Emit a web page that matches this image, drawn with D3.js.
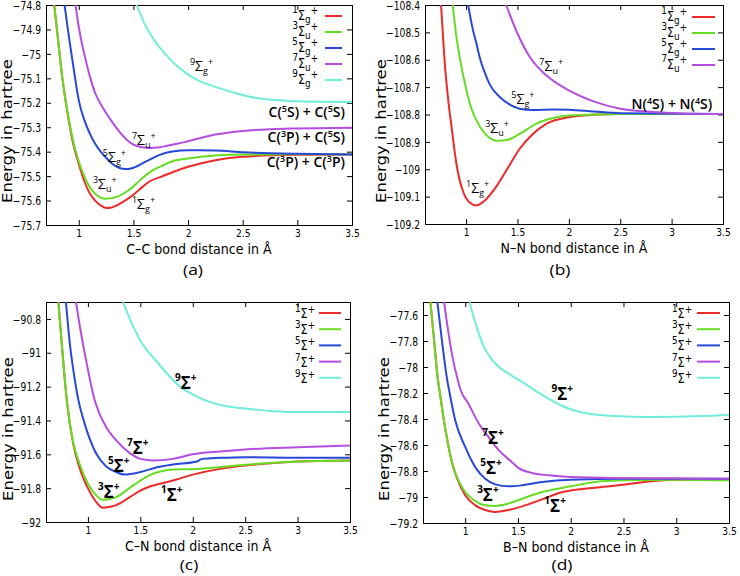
<!DOCTYPE html>
<html><head><meta charset="utf-8">
<script src="https://cdn.jsdelivr.net/npm/d3@7"></script>
<style>body{margin:0;background:#fff} svg{display:block}</style>
</head><body><svg id="chart" width="740" height="576"></svg>
<script>
// ---------------- data ----------------
const xTicks = [1, 1.5, 2, 2.5, 3, 3.5];
const yTicksCC = [-74.8, -74.9, -75, -75.1, -75.2, -75.3, -75.4, -75.5, -75.6, -75.7];
const yTicksNN = [-108.4, -108.5, -108.6, -108.7, -108.8, -108.9, -109, -109.1, -109.2];
const yTicksCN = [-90.8, -91, -91.2, -91.4, -91.6, -91.8, -92];
const yTicksBN = [-77.6, -77.8, -78, -78.2, -78.4, -78.6, -78.8, -79, -79.2];

const ccTerms = [["1","g"],["3","u"],["5","g"],["7","u"],["9","g"]];
const nnTerms = [["1","g"],["3","u"],["5","g"],["7","u"]];
const cnTerms = [["1",""],["3",""],["5",""],["7",""],["9",""]];
const bnTerms = [["1",""],["3",""],["5",""],["7",""],["9",""]];

// C2 (a)
const cc1 = [[0.775,-74.8],[0.8,-74.9],[0.85,-75.1],[0.9,-75.25],[0.95,-75.37],[1.0,-75.45],[1.05,-75.52],[1.1,-75.57],[1.15,-75.6],[1.2,-75.62],[1.25,-75.63],[1.3,-75.628],[1.36,-75.617],[1.43,-75.598],[1.5,-75.576],[1.58,-75.545],[1.65,-75.521],[1.75,-75.503],[1.87,-75.482],[2.0,-75.462],[2.25,-75.435],[2.5,-75.421],[3.0,-75.413],[3.5,-75.412]];
const cc3 = [[0.775,-74.8],[0.8,-74.9],[0.85,-75.1],[0.9,-75.245],[0.95,-75.36],[1.0,-75.44],[1.05,-75.5],[1.1,-75.545],[1.15,-75.572],[1.2,-75.588],[1.24,-75.593],[1.3,-75.59],[1.36,-75.583],[1.45,-75.56],[1.5,-75.542],[1.56,-75.517],[1.62,-75.494],[1.7,-75.47],[1.75,-75.46],[1.86,-75.439],[2.0,-75.428],[2.25,-75.416],[2.5,-75.412],[3.0,-75.411],[3.5,-75.411]];
const cc5 = [[0.87,-74.8],[0.9,-74.9],[0.95,-75.05],[1.0,-75.19],[1.05,-75.27],[1.1,-75.325],[1.15,-75.368],[1.2,-75.4],[1.25,-75.425],[1.3,-75.447],[1.35,-75.462],[1.4,-75.47],[1.45,-75.471],[1.5,-75.466],[1.62,-75.439],[1.745,-75.412],[1.87,-75.398],[2.0,-75.394],[2.25,-75.395],[2.5,-75.402],[3.0,-75.409],[3.5,-75.412]];
const cc7 = [[0.97,-74.8],[1.0,-74.89],[1.05,-75.0],[1.1,-75.09],[1.15,-75.16],[1.2,-75.205],[1.255,-75.245],[1.3,-75.275],[1.38,-75.323],[1.45,-75.355],[1.5,-75.371],[1.58,-75.382],[1.65,-75.385],[1.72,-75.383],[1.8,-75.377],[1.9,-75.368],[2.0,-75.357],[2.25,-75.33],[2.5,-75.315],[2.75,-75.308],[3.0,-75.305],[3.5,-75.302]];
const cc9 = [[1.53,-74.8],[1.6,-74.875],[1.7,-74.95],[1.8,-75.005],[1.9,-75.05],[2.0,-75.085],[2.1,-75.11],[2.25,-75.135],[2.48,-75.166],[2.6,-75.178],[2.79,-75.189],[3.0,-75.194],[3.25,-75.196],[3.5,-75.197]];

// N2 (b)
const nn1 = [[0.756,-108.4],[0.79,-108.6],[0.83,-108.76],[0.86,-108.85],[0.91,-108.99],[0.974,-109.085],[1.04,-109.123],[1.1,-109.132],[1.18,-109.115],[1.3,-109.06],[1.41,-108.993],[1.52,-108.926],[1.65,-108.871],[1.78,-108.834],[2.0,-108.81],[2.24,-108.801],[2.5,-108.798],[3.5,-108.798]];
const nn3 = [[0.87,-108.4],[0.9,-108.5],[0.94,-108.596],[1.0,-108.706],[1.04,-108.765],[1.136,-108.846],[1.22,-108.883],[1.3,-108.896],[1.4,-108.893],[1.52,-108.871],[1.68,-108.834],[1.85,-108.813],[2.0,-108.804],[2.5,-108.798],[3.5,-108.798]];
const nn5 = [[1.02,-108.4],[1.06,-108.48],[1.1,-108.54],[1.136,-108.596],[1.18,-108.645],[1.23,-108.69],[1.33,-108.737],[1.43,-108.765],[1.52,-108.779],[1.65,-108.784],[1.85,-108.782],[2.0,-108.783],[2.24,-108.789],[2.5,-108.795],[3.5,-108.798]];
const nn7 = [[1.39,-108.4],[1.5,-108.504],[1.62,-108.59],[1.78,-108.657],[2.0,-108.712],[2.24,-108.752],[2.5,-108.779],[2.82,-108.791],[3.1,-108.796],[3.5,-108.798]];

// CN (c)
const cn1 = [[0.718,-90.7],[0.76,-91.02],[0.8,-91.29],[0.86,-91.54],[0.92,-91.68],[1.0,-91.8],[1.08,-91.883],[1.143,-91.916],[1.2,-91.912],[1.27,-91.9],[1.4,-91.853],[1.5,-91.814],[1.59,-91.79],[1.7,-91.772],[1.81,-91.755],[2.0,-91.72],[2.26,-91.686],[2.5,-91.666],[2.77,-91.652],[3.0,-91.642],[3.5,-91.636]];
const cn3 = [[0.718,-90.7],[0.76,-91.02],[0.8,-91.29],[0.86,-91.53],[0.92,-91.656],[1.0,-91.774],[1.08,-91.843],[1.143,-91.869],[1.2,-91.866],[1.27,-91.853],[1.4,-91.798],[1.5,-91.755],[1.6,-91.72],[1.7,-91.7],[1.82,-91.69],[2.0,-91.688],[2.25,-91.676],[2.5,-91.662],[3.0,-91.642],[3.5,-91.636]];
const cn5 = [[0.79,-90.7],[0.83,-90.96],[0.87,-91.14],[0.909,-91.28],[0.95,-91.38],[1.0,-91.479],[1.08,-91.597],[1.175,-91.672],[1.27,-91.705],[1.35,-91.72],[1.5,-91.705],[1.66,-91.676],[1.81,-91.66],[2.04,-91.642],[2.09,-91.627],[2.26,-91.621],[2.5,-91.617],[3.0,-91.62],[3.5,-91.62]];
const cn7 = [[0.886,-90.7],[0.93,-90.87],[0.975,-91.02],[1.02,-91.16],[1.06,-91.27],[1.11,-91.36],[1.175,-91.44],[1.27,-91.518],[1.4,-91.593],[1.5,-91.627],[1.62,-91.636],[1.81,-91.627],[2.0,-91.6],[2.26,-91.583],[2.5,-91.571],[3.0,-91.558],[3.5,-91.548]];
const cn9 = [[1.335,-90.7],[1.4,-90.8],[1.497,-90.924],[1.656,-91.052],[1.88,-91.2],[2.04,-91.259],[2.26,-91.308],[2.5,-91.33],[2.77,-91.345],[3.0,-91.35],[3.5,-91.35]];

// BN (d)
const bn1 = [[0.67,-77.5],[0.7,-77.75],[0.742,-78.103],[0.76,-78.2],[0.8,-78.42],[0.83,-78.56],[0.87,-78.72],[0.92,-78.85],[1.0,-78.987],[1.095,-79.064],[1.19,-79.1],[1.285,-79.115],[1.41,-79.1],[1.54,-79.072],[1.73,-79.018],[1.92,-78.962],[2.0,-78.949],[2.23,-78.928],[2.5,-78.905],[2.74,-78.88],[3.0,-78.867],[3.5,-78.867]];
const bn3 = [[0.67,-77.5],[0.7,-77.75],[0.742,-78.103],[0.76,-78.2],[0.8,-78.42],[0.83,-78.56],[0.87,-78.72],[0.92,-78.846],[1.0,-78.962],[1.095,-79.03],[1.19,-79.064],[1.285,-79.069],[1.41,-79.05],[1.54,-79.013],[1.73,-78.962],[2.0,-78.918],[2.23,-78.885],[2.5,-78.872],[3.0,-78.867],[3.5,-78.872]];
const bn5 = [[0.736,-77.5],[0.78,-77.8],[0.8,-77.93],[0.83,-78.103],[0.847,-78.177],[0.905,-78.41],[1.0,-78.615],[1.095,-78.77],[1.19,-78.86],[1.285,-78.903],[1.41,-78.918],[1.54,-78.91],[1.73,-78.885],[2.0,-78.867],[2.5,-78.86],[3.5,-78.86]];
const bn7 = [[0.8,-77.5],[0.84,-77.73],[0.879,-77.92],[0.92,-78.07],[0.958,-78.18],[1.03,-78.282],[1.13,-78.436],[1.22,-78.538],[1.32,-78.641],[1.44,-78.73],[1.5,-78.774],[1.63,-78.815],[1.79,-78.833],[2.0,-78.846],[2.42,-78.854],[3.5,-78.859]];
const bn9 = [[1.04,-77.5],[1.1,-77.67],[1.18,-77.85],[1.25,-77.94],[1.32,-78.0],[1.4,-78.045],[1.48,-78.087],[1.54,-78.115],[1.66,-78.18],[1.79,-78.244],[1.92,-78.3],[2.0,-78.325],[2.17,-78.36],[2.42,-78.377],[2.74,-78.385],[3.0,-78.383],[3.5,-78.37]];

// ---------------- layout / style ----------------
const COLORS = ["#ee2a2a", "#66dd22", "#2848d8", "#b44ee0", "#6fedda"];
const SQ = 0.8;
const GP = "'DejaVu Sans', sans-serif";
const OS = "'Open Sans', sans-serif";

const panels = [
  { left:46, top:5, right:352, bottom:225, xDomain:[0.7,3.5], yDomain:[-75.7,-74.8], yTicks:yTicksCC,
    series:[cc1,cc3,cc5,cc7,cc9], terms:ccTerms, xTitle:"C\u2013C bond distance in \u00C5", tag:"(a)", tagX:193, tagY:275,
    yTitleX:12, yTitleY:131, legend:{x:325, len:17, y0:16, step:16, tx:318},
    labels:[[1.486,-75.635],[1.129,-75.553],[1.22,-75.442],[1.486,-75.373],[2.017,-75.07]],
    notes:[{t:"C(^5S) + C(^5S)", r:3.436, e:-75.258, a:"end"},{t:"C(^3P) + C(^5S)", r:3.436, e:-75.36, a:"end"},{t:"C(^3P) + C(^3P)", r:3.436, e:-75.463, a:"end"}],
    bold:false },
  { left:425, top:5, right:723, bottom:224, xDomain:[0.6,3.5], yDomain:[-109.2,-108.4], yTicks:yTicksNN,
    series:[nn1,nn3,nn5,nn7], terms:nnTerms, xTitle:"N\u2013N bond distance in \u00C5", tag:"(b)", tagX:560, tagY:275,
    yTitleX:386, yTitleY:131, legend:{x:692, len:23, y0:17, step:16, tx:687},
    labels:[[1.0,-109.086],[1.186,-108.867],[1.44,-108.761],[1.713,-108.641]],
    notes:[{t:"N(^4S) + N(^4S)", r:2.61, e:-108.78, a:"start"}],
    bold:false },
  { left:46, top:302, right:350, bottom:522, xDomain:[0.6,3.5], yDomain:[-92,-90.7], yTicks:yTicksCN,
    series:[cn1,cn3,cn5,cn7,cn9], terms:cnTerms, xTitle:"C\u2013N bond distance in \u00C5", tag:"(c)", tagX:189, tagY:570,
    yTitleX:13, yTitleY:429, legend:{x:319, len:22, y0:313, step:16.2, tx:315},
    labels:[[1.697,-91.876],[1.096,-91.858],[1.192,-91.705],[1.373,-91.598],[1.831,-91.214]],
    notes:[], bold:true },
  { left:423, top:302, right:729, bottom:523, xDomain:[0.6,3.5], yDomain:[-79.2,-77.5], yTicks:yTicksBN,
    series:[bn1,bn3,bn5,bn7,bn9], terms:bnTerms, xTitle:"B\u2013N bond distance in \u00C5", tag:"(d)", tagX:562, tagY:570,
    yTitleX:389, yTitleY:429, legend:{x:697, len:23, y0:313, step:16.2, tx:692},
    labels:[[1.75,-79.115],[1.113,-79.031],[1.142,-78.823],[1.161,-78.592],[1.817,-78.254]],
    notes:[], bold:true }
];

const svg = d3.select("#chart");
const fmtY = v => String(Math.round(v * 10) / 10).replace("-", "\u2212");

function termText(t, mult, sub, spec) {
  const parts = [{txt:mult, size:spec.small, off:spec.moff}, {txt:"\u03A3", size:spec.big, off:0}];
  if (sub) parts.push({txt:sub, size:spec.small, off:spec.soff});
  parts.push({txt:"+", size:spec.small, off:spec.poff});
  let prev = 0;
  parts.forEach(p => {
    t.append("tspan").attr("dy", p.off - prev).attr("font-size", p.size).text(p.txt);
    prev = p.off;
  });
}

function richText(t, str, size, supSize, supOff) {
  const parts = str.split(/\^(\d)/);
  let cur = 0;
  parts.forEach((s, i) => {
    if (!s) return;
    const off = (i % 2 === 1) ? supOff : 0;
    t.append("tspan").attr("dy", off - cur).attr("font-size", (i % 2 === 1) ? supSize : size).text(s);
    cur = off;
  });
}

panels.forEach((p, pi) => {
  const x = d3.scaleLinear().domain(p.xDomain).range([p.left, p.right]);
  const y = d3.scaleLinear().domain(p.yDomain).range([p.bottom, p.top]);
  const g = svg.append("g");
  const clipId = "clip" + pi;
  svg.append("clipPath").attr("id", clipId).append("rect")
    .attr("x", p.left).attr("y", p.top).attr("width", p.right - p.left).attr("height", p.bottom - p.top);

  // axes (ticks inward, mirrored)
  const styleTicks = a => { a.select(".domain").remove(); a.selectAll("line").attr("stroke", "#000"); };
  g.append("g").attr("transform", `translate(0,${p.bottom})`)
    .call(d3.axisBottom(x).tickValues(xTicks).tickSize(-5).tickSizeOuter(0).tickFormat(d => String(d)))
    .call(styleTicks)
    .call(a => a.selectAll("text").attr("y", 12).attr("dy", null).attr("fill", "#000")
      .attr("font-size", 11).attr("font-family", GP).attr("transform", `scale(${SQ * 1.04},1)`));
  g.append("g").attr("transform", `translate(${p.left},0)`)
    .call(d3.axisLeft(y).tickValues(p.yTicks).tickSize(-5).tickSizeOuter(0).tickFormat(fmtY))
    .call(styleTicks)
    .call(a => a.selectAll("text").attr("x", -5 / SQ).attr("dy", "0.36em").attr("fill", "#000")
      .attr("font-size", 11.5).attr("font-family", GP).attr("transform", `scale(${SQ},1)`));
  g.append("g").attr("transform", `translate(0,${p.top})`)
    .call(d3.axisTop(x).tickValues(xTicks).tickSize(-5).tickSizeOuter(0).tickFormat(""))
    .call(styleTicks);
  g.append("g").attr("transform", `translate(${p.right},0)`)
    .call(d3.axisRight(y).tickValues(p.yTicks).tickSize(-5).tickSizeOuter(0).tickFormat(""))
    .call(styleTicks);

  // frame
  g.append("rect").attr("x", p.left + 0.5).attr("y", p.top + 0.5)
    .attr("width", p.right - p.left).attr("height", p.bottom - p.top)
    .attr("fill", "none").attr("stroke", "#000").attr("stroke-width", 1);

  // curves
  const line = d3.line().x(d => x(d[0])).y(d => y(d[1])).curve(d3.curveMonotoneX);
  g.append("g").attr("clip-path", `url(#${clipId})`)
    .selectAll("path").data(p.series).join("path")
    .attr("d", line).attr("fill", "none")
    .attr("stroke", (d, i) => COLORS[i]).attr("stroke-width", 2).attr("stroke-linejoin", "round");

  // legend
  p.terms.forEach((tm, i) => {
    const ry = p.legend.y0 + i * p.legend.step;
    g.append("line").attr("x1", p.legend.x).attr("x2", p.legend.x + p.legend.len)
      .attr("y1", ry).attr("y2", ry).attr("stroke", COLORS[i]).attr("stroke-width", 2);
    const t = g.append("text").attr("font-family", GP).attr("text-anchor", "end").attr("fill", "#000")
      .attr("transform", `translate(${p.legend.tx},${ry + (tm[1] ? 4 : 5)}) scale(${SQ},1)`);
    if (tm[1]) termText(t, tm[0], tm[1], {small:11, big:14, moff:-7, soff:3, poff:-6});
    else termText(t, tm[0], tm[1], {small:11, big:14, moff:-6, soff:0, poff:-5});
  });

  // curve labels
  p.labels.forEach((pos, i) => {
    const tm = p.terms[i];
    const t = g.append("text").attr("font-family", OS).attr("fill", "#000")
      .attr("font-weight", p.bold ? 700 : 400)
      .attr("transform", `translate(${x(pos[0])},${y(pos[1])})`);
    if (p.bold) termText(t, tm[0], tm[1], {small:10, big:17, moff:-8, soff:0, poff:-8});
    else termText(t, tm[0], tm[1], {small:9, big:14, moff:-6, soff:3, poff:-6});
  });

  // asymptote notes
  p.notes.forEach(n => {
    const t = g.append("text").attr("font-family", OS).attr("font-weight", 600).attr("fill", "#000")
      .attr("text-anchor", n.a).attr("transform", `translate(${x(n.r)},${y(n.e)})`);
    richText(t, n.t, 14, 9, -5);
  });

  // axis titles
  g.append("text").attr("font-family", GP).attr("font-size", 14.5).attr("text-anchor", "middle").attr("fill", "#000")
    .attr("transform", `translate(${(p.left + p.right) / 2},${p.bottom + 28.5}) scale(${SQ * 1.09},1)`)
    .text(p.xTitle);
  g.append("text").attr("font-family", GP).attr("font-size", 16.5).attr("text-anchor", "middle").attr("fill", "#000")
    .attr("transform", `translate(${p.yTitleX},${p.yTitleY}) scale(${SQ},1) rotate(-90)`)
    .text("Energy in hartree");

  // panel tag
  g.append("text").attr("font-family", OS).attr("font-size", 14.5).attr("text-anchor", "middle").attr("fill", "#000")
    .attr("transform", `translate(${p.tagX},${p.tagY}) scale(1.2,1.05)`).text(p.tag);
});
</script>
</body></html>
